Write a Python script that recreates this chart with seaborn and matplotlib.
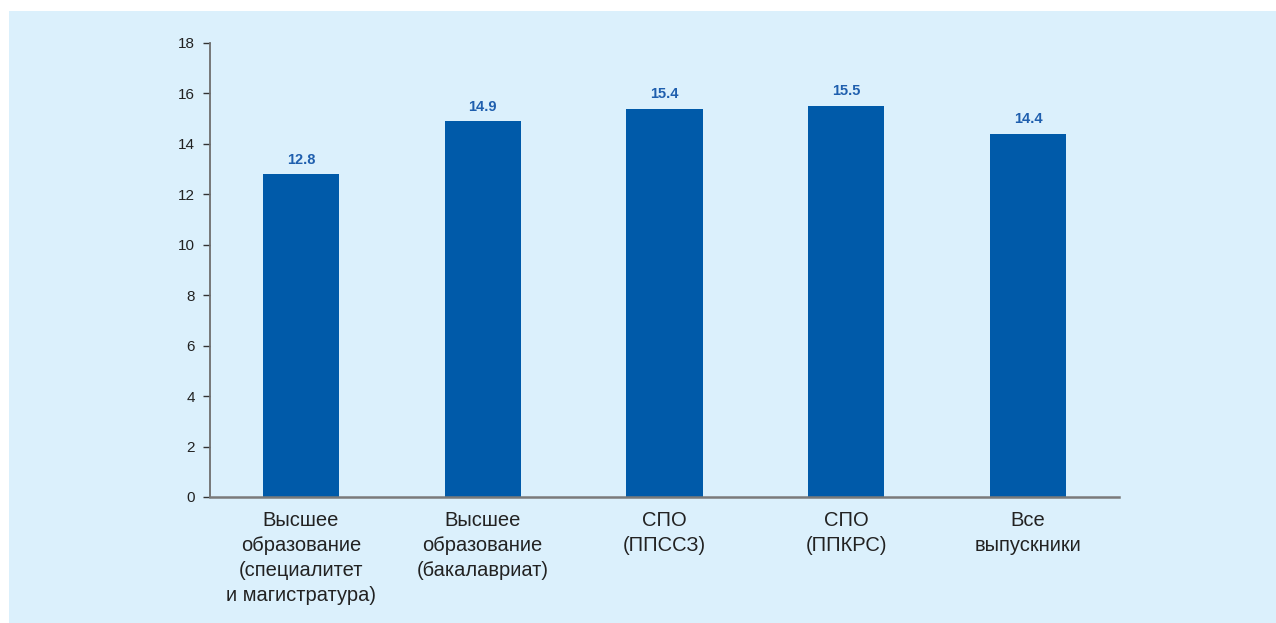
import matplotlib
matplotlib.use("Agg")
import matplotlib.pyplot as plt
import seaborn as sns
import pandas as pd
from matplotlib.patches import Rectangle

sns.set_style("white")
plt.rcParams['font.family'] = ['Liberation Sans', 'DejaVu Sans']

categories = [
    "Высшее\nобразование\n(специалитет\nи магистратура)",
    "Высшее\nобразование\n(бакалавриат)",
    "СПО\n(ППССЗ)",
    "СПО\n(ППКРС)",
    "Все\nвыпускники",
]
values = [12.8, 14.9, 15.4, 15.5, 14.4]
yticks = [0, 2, 4, 6, 8, 10, 12, 14, 16, 18]

bg = "#dbf0fc"
bar_color = "#005aa9"

df = pd.DataFrame({"cat": categories, "val": values})

fig = plt.figure(figsize=(12.76, 6.23), dpi=100)
fig.patch.set_facecolor("white")
fig.patches.append(Rectangle((9 / 1276, 0), 1, 1 - 11 / 623, transform=fig.transFigure,
                             facecolor=bg, edgecolor="none", zorder=-10))

ax = fig.add_axes([210 / 1276, 1 - 497 / 623, (1119 - 210) / 1276, (497 - 43) / 623])
ax.set_facecolor("none")

sns.barplot(data=df, x="cat", y="val", color=bar_color, saturation=1, width=0.42,
            linewidth=0, ax=ax)

for i, v in enumerate(values):
    ax.text(i, v + 0.3, f"{v:.1f}", ha="center", va="bottom", fontsize=10.5,
            fontweight="bold", color="#1f5fae")

ax.set_xlim(-0.5, len(categories) - 0.5)
ax.set_ylim(0, 18)
ax.set_yticks(yticks)
ax.set_yticklabels([str(t) for t in yticks], fontsize=11, color="#222222")
ax.set_xlabel("")
ax.set_ylabel("")

ax.set_xticks(range(len(categories)))
ax.set_xticklabels(categories, fontsize=14.5, color="#222222", linespacing=1.4)
ax.set_xticks([i - 0.5 for i in range(len(categories) + 1)], minor=True)
ax.tick_params(axis="x", which="major", length=0, pad=10)
ax.tick_params(axis="x", which="minor", length=6, width=1, color="#333333", direction="out")
ax.tick_params(axis="y", length=5, width=1, color="#333333", direction="out", pad=6, left=True)

for s in ["top", "right"]:
    ax.spines[s].set_visible(False)
ax.spines["left"].set_color("#6e6e6e")
ax.spines["bottom"].set_color("#7a7a7a")
ax.spines["left"].set_linewidth(1.3)
ax.spines["bottom"].set_linewidth(1.8)

fig.savefig("out.png", dpi=100, facecolor=fig.get_facecolor())
